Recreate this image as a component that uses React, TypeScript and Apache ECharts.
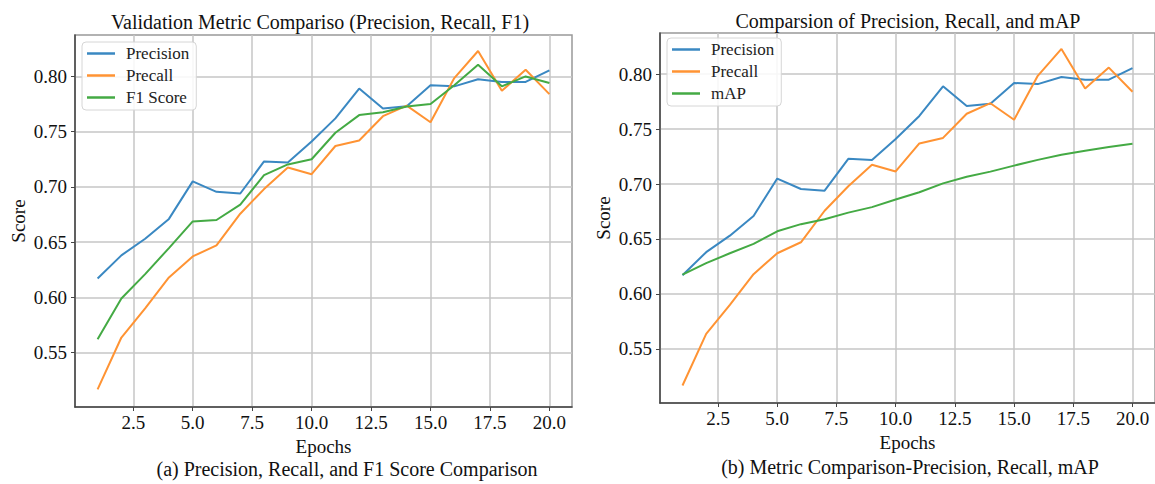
import React, { useEffect, useRef } from "react";
import * as echarts from "echarts";

const epochs = [1, 2, 3, 4, 5, 6, 7, 8, 9, 10, 11, 12, 13, 14, 15, 16, 17, 18, 19, 20];
const precision = [0.617, 0.638, 0.653, 0.671, 0.705, 0.6955, 0.694, 0.723, 0.722, 0.741, 0.762, 0.789, 0.771, 0.773, 0.792, 0.791, 0.7975, 0.795, 0.795, 0.8055];
const recall = [0.5166, 0.5636, 0.59, 0.618, 0.637, 0.647, 0.6757, 0.698, 0.7175, 0.7115, 0.737, 0.742, 0.764, 0.7736, 0.7585, 0.7985, 0.823, 0.787, 0.806, 0.784];
const f1 = [0.562, 0.599, 0.621, 0.6446, 0.6687, 0.67, 0.684, 0.7106, 0.7203, 0.725, 0.749, 0.765, 0.7675, 0.7727, 0.775, 0.792, 0.8105, 0.791, 0.8, 0.794];
const mAP = [0.6175, 0.628, 0.637, 0.6455, 0.657, 0.6635, 0.668, 0.674, 0.679, 0.686, 0.6925, 0.7006, 0.7067, 0.7113, 0.7168, 0.722, 0.7266, 0.7303, 0.7337, 0.7367];
const xTicks = [2.5, 5, 7.5, 10, 12.5, 15, 17.5, 20];
const yTicks = [0.55, 0.6, 0.65, 0.7, 0.75, 0.8];
const leftLegend = ["Precision", "Precall", "F1 Score"];
const rightLegend = ["Precision", "Precall", "mAP"];

const BLUE = "#3a88c2";
const ORANGE = "#ff9333";
const GREEN = "#44aa44";
const FONT = "'Liberation Serif', 'Times New Roman', serif";

export default function App() {
  const ref = useRef<HTMLDivElement>(null);
  useEffect(() => {
    const chart = echarts.init(ref.current!, undefined, { renderer: "svg" });
    const pair = (ys: number[]) => epochs.map((x, i) => [x, ys[i]]);
    const mkX = (i: number) => ({
      type: "value",
      gridIndex: i,
      min: 0.05,
      max: 20.95,
      name: "Epochs",
      nameLocation: "middle",
      nameGap: 29,
      nameTextStyle: { fontFamily: FONT, fontSize: 19, color: "#111" },
      axisLine: { show: true, onZero: false, lineStyle: { color: "#444", width: 1.5 } },
      axisTick: { show: true, customValues: xTicks, length: 4, lineStyle: { color: "#444", width: 1 } },
      axisLabel: {
        customValues: xTicks,
        formatter: (v: number) => v.toFixed(1),
        fontFamily: FONT,
        fontSize: 19,
        color: "#111",
        margin: 6,
      },
      splitLine: { show: true, lineStyle: { color: "#c6c6c6", width: 1.5 } },
    });
    const mkY = (i: number) => ({
      type: "value",
      gridIndex: i,
      min: 0.5007,
      max: 0.8375,
      name: "Score",
      nameLocation: "middle",
      nameGap: 47,
      nameRotate: 90,
      nameTextStyle: { fontFamily: FONT, fontSize: 19, color: "#111" },
      axisLine: { show: true, onZero: false, lineStyle: { color: "#444", width: 1.5 } },
      axisTick: { show: true, customValues: yTicks, length: 4, lineStyle: { color: "#444", width: 1 } },
      axisLabel: {
        customValues: yTicks,
        formatter: (v: number) => v.toFixed(2),
        fontFamily: FONT,
        fontSize: 19,
        color: "#111",
        margin: 8,
      },
      splitLine: { show: true, lineStyle: { color: "#c6c6c6", width: 1.5 } },
    });
    const mkS = (name: string, data: number[], color: string, idx: number) => ({
      type: "line",
      name,
      xAxisIndex: idx,
      yAxisIndex: idx,
      data: pair(data),
      symbol: "none",
      showSymbol: false,
      lineStyle: { color, width: 2 },
      itemStyle: { color },
    });
    const mkLegend = (data: string[], left: number, top: number) => ({
      data,
      orient: "vertical",
      left,
      top,
      icon: "rect",
      itemWidth: 28,
      itemHeight: 2.5,
      itemGap: 5,
      padding: [3, 7, 4, 5],
      borderColor: "#d6d6d6",
      borderWidth: 1,
      borderRadius: 4,
      backgroundColor: "rgba(255,255,255,0.85)",
      textStyle: { fontFamily: FONT, fontSize: 17, lineHeight: 17, color: "#222", padding: [0, 0, 0, 6] },
      selectedMode: false,
    });
    const text = (t: string, x: number, y: number, size: number) => ({
      type: "text",
      x,
      y,
      style: {
        text: t,
        fontFamily: FONT,
        fontSize: size,
        fill: "#111",
        textAlign: "center",
        textVerticalAlign: "middle",
      },
    });
    chart.setOption({
      animation: false,
      backgroundColor: "#fff",
      grid: [
        { left: 75, top: 35, width: 497, height: 372, show: true, borderColor: "#999", borderWidth: 1.5 },
        { left: 660, top: 33, width: 497, height: 370, show: true, borderColor: "#999", borderWidth: 1.5 },
      ],
      xAxis: [mkX(0), mkX(1)],
      yAxis: [mkY(0), mkY(1)],
      legend: [mkLegend(leftLegend, 82, 42), mkLegend(rightLegend, 667, 38)],
      series: [
        mkS("Precision", precision, BLUE, 0),
        mkS("Precall", recall, ORANGE, 0),
        mkS("F1 Score", f1, GREEN, 0),
        mkS("Precision", precision, BLUE, 1),
        mkS("Precall", recall, ORANGE, 1),
        mkS("mAP", mAP, GREEN, 1),
      ],
      graphic: [
        text("Validation Metric Compariso (Precision, Recall, F1)", 320, 22, 20),
        text("Comparsion of Precision, Recall, and mAP", 908, 21, 20),
        text("(a) Precision, Recall, and F1 Score Comparison", 347, 469, 20),
        text("(b) Metric Comparison-Precision, Recall, mAP", 910, 467, 20),
      ],
    });
    return () => chart.dispose();
  }, []);
  return (
    <div
      ref={ref}
      style={{ position: "absolute", left: 0, top: 0, width: 1155, height: 484 }}
    />
  );
}
